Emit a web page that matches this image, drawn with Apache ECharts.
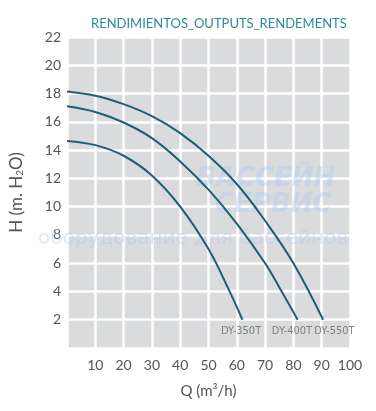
<!DOCTYPE html>
<html>
<head>
<meta charset="utf-8">
<script src="https://cdn.jsdelivr.net/npm/echarts@6/dist/echarts.min.js"></script>
<style>
  html, body { margin: 0; padding: 0; background: #fff; }
  #chart { width: 376px; height: 411px; }
</style>
</head>
<body>
<div id="chart"></div>
<script>
// pump curves: [Q m3/h, H m]
const dy350 = [[0, 14.65], [10, 14.35], [20, 13.6], [30, 12.2], [40, 10.0], [50, 7.0], [57, 4.2], [62, 2]];
const dy400 = [[0, 17.1], [10, 16.7], [20, 15.95], [30, 14.85], [40, 13.2], [50, 11.2], [60, 8.8], [70, 6.0], [75, 4.3], [81.5, 2]];
const dy550 = [[0, 18.15], [10, 17.85], [20, 17.25], [30, 16.4], [40, 15.2], [50, 13.6], [60, 11.6], [70, 9.0], [80, 6.0], [90.5, 2]];

const seriesNames = ['DY-350T', 'DY-400T', 'DY-550T'];
const labelSpots = [[61.5, 1.2], [79.5, 1.2], [94.5, 1.2]];

const lineColor = '#1d5f73';
const markColor = 'rgba(175,205,240,0.45)';
const chart = echarts.init(document.getElementById('chart'), null, { renderer: 'canvas' });

const curveSeries = [dy350, dy400, dy550].map((data, i) => ({
  name: seriesNames[i],
  type: 'line',
  data: data,
  smooth: 0.4,
  symbol: 'none',
  lineStyle: { color: lineColor, width: 2 },
  z: 5
}));

chart.setOption({
  animation: false,
  title: {
    text: 'RENDIMIENTOS_OUTPUTS_RENDEMENTS',
    left: 86,
    top: 12,
    textStyle: { color: '#2a8c99', fontSize: 13, fontWeight: 'normal', fontFamily: 'Lato' }
  },
  grid: {
    left: 67, right: 26, top: 37, bottom: 63,
    show: true, backgroundColor: '#dadbdc', borderWidth: 0
  },
  graphic: [
    { type: 'text', left: 196, top: 166, z: 1, silent: true,
      style: { text: 'БАССЕЙН', fill: markColor, font: 'italic bold 26px "DejaVu Sans"' } },
    { type: 'text', left: 215, top: 192, z: 1, silent: true,
      style: { text: 'СЕРВИС', fill: markColor, font: 'italic bold 26px "DejaVu Sans"' } },
    { type: 'text', left: 38, top: 229, z: 1, silent: true,
      style: { text: 'оборудование для бассейнов', fill: markColor, font: '20px "DejaVu Sans"' } }
  ],
  xAxis: {
    type: 'value', min: 0, max: 100, interval: 10,
    name: 'Q (m³/h)', nameLocation: 'middle', nameGap: 36,
    nameTextStyle: { color: '#555', fontSize: 15, fontFamily: 'Lato' },
    axisLine: { show: false }, axisTick: { show: false },
    axisLabel: { color: '#555', fontSize: 14, fontFamily: 'Lato', margin: 10,
      formatter: v => v === 0 ? '' : v },
    splitLine: { show: true, lineStyle: { color: '#fff', width: 2.5 } }
  },
  yAxis: {
    type: 'value', min: 0, max: 22, interval: 2,
    name: 'H (m. H{sub|2}O)', nameLocation: 'middle', nameGap: 42,
    nameTextStyle: { color: '#555', fontSize: 17, fontFamily: 'Lato',
      rich: { sub: { fontSize: 10, verticalAlign: 'bottom', padding: [7, 0, 0, 0], color: '#555' } } },
    axisLine: { show: false }, axisTick: { show: false },
    axisLabel: { color: '#555', fontSize: 14, fontFamily: 'Lato', margin: 6,
      formatter: v => v === 0 ? '' : v },
    splitLine: { show: true, lineStyle: { color: '#fff', width: 2.5 } }
  },
  series: curveSeries.concat([{
    type: 'scatter',
    symbolSize: 0,
    silent: true,
    data: labelSpots.map((p, i) => ({ value: p, name: seriesNames[i] })),
    label: {
      show: true, position: 'inside', formatter: p => p.name,
      color: '#666', fontSize: 11, fontFamily: '"DejaVu Sans Condensed", Roboto, sans-serif'
    },
    z: 6
  }])
});
</script>
</body>
</html>
